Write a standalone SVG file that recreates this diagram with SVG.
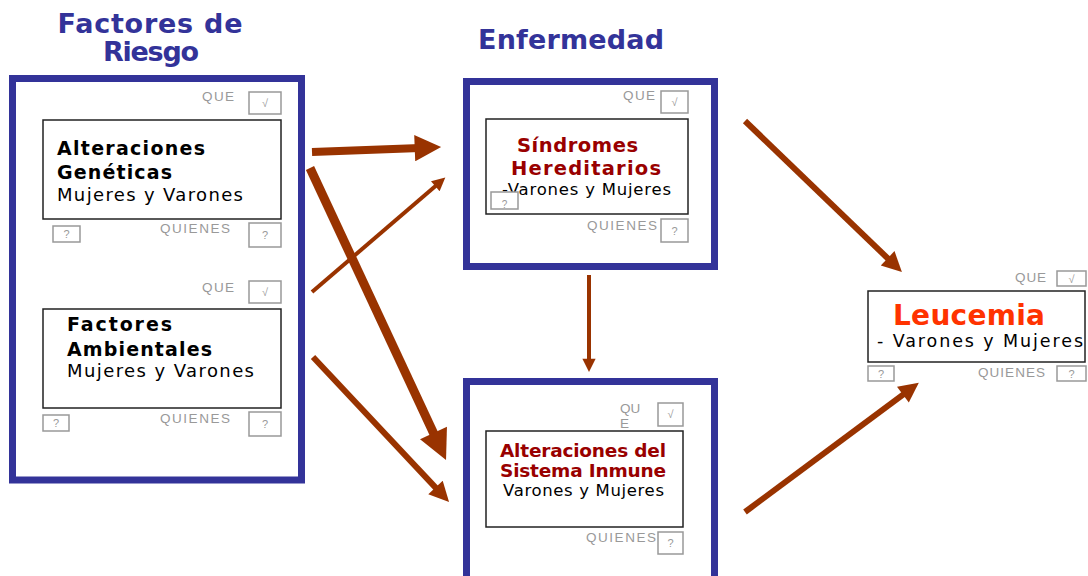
<svg xmlns="http://www.w3.org/2000/svg" width="1088" height="576" viewBox="0 0 1088 576">
<style>
.outer{fill:#fff;stroke:#333399;stroke-width:7}
.inner{fill:#fff;stroke:#222;stroke-width:1.5}
.cb{fill:#fff;stroke:#999;stroke-width:1.5}
.lbl{font-family:"Liberation Sans",Arial,sans-serif;font-size:13.5px;fill:#999}
.q{font-family:"Liberation Sans",Arial,sans-serif;font-size:11px;fill:#999;text-anchor:middle}
.title{font-family:"DejaVu Sans",sans-serif;font-weight:bold;font-size:27px;fill:#333399}
.hb{font-family:"DejaVu Sans",sans-serif;font-weight:bold;font-size:19px;fill:#000}
.hr{font-family:"DejaVu Sans",sans-serif;font-weight:bold;font-size:18.5px;fill:#990000}
.sub{font-family:"DejaVu Sans",sans-serif;font-size:18px;fill:#000}
.arr{stroke:#993300;fill:none;stroke-linecap:butt}
</style>
<defs>
<marker id="ah" viewBox="0 0 10 10" refX="2" refY="5" markerUnits="strokeWidth" markerWidth="3.6" markerHeight="3.3" orient="auto">
<path d="M0,0 L10,5 L0,10 z" fill="#993300"/>
</marker>
</defs>
<rect width="1088" height="576" fill="#fff"/>

<g id="titles">
<text class="title" x="150" y="33" text-anchor="middle" textLength="185">Factores de</text>
<text class="title" x="151" y="61" text-anchor="middle" textLength="96">Riesgo</text>
<text class="title" x="571" y="49" text-anchor="middle" textLength="186">Enfermedad</text>
</g>

<g id="factores-riesgo">
<rect class="outer" x="12.5" y="78.5" width="289" height="401.5"/>
</g>

<g id="alteraciones-geneticas">
<text class="lbl" x="202" y="101" textLength="32">QUE</text>
<rect class="cb" x="249" y="92" width="32" height="22"/>
<text class="q" x="265" y="107">√</text>
<rect class="inner" x="43" y="120" width="238" height="99"/>
<text class="hb" x="57" y="155" textLength="148">Alteraciones</text>
<text class="hb" x="57" y="179" textLength="115">Genéticas</text>
<text class="sub" x="57" y="201" textLength="186">Mujeres y Varones</text>
<rect class="cb" x="53" y="226" width="27" height="16"/>
<text class="q" x="66.5" y="238">?</text>
<text class="lbl" x="160" y="233" textLength="70">QUIENES</text>
<rect class="cb" x="249" y="223" width="32" height="24"/>
<text class="q" x="265" y="239">?</text>
</g>

<g id="factores-ambientales">
<text class="lbl" x="202" y="292" textLength="32">QUE</text>
<rect class="cb" x="249" y="281" width="32" height="22"/>
<text class="q" x="265" y="296">√</text>
<rect class="inner" x="43" y="309" width="238" height="99"/>
<text class="hb" x="67" y="331" textLength="105">Factores</text>
<text class="hb" x="67" y="356" textLength="145">Ambientales</text>
<text class="sub" x="67" y="377" textLength="187">Mujeres y Varones</text>
<rect class="cb" x="43" y="415" width="26" height="16"/>
<text class="q" x="56" y="427">?</text>
<text class="lbl" x="160" y="423" textLength="70">QUIENES</text>
<rect class="cb" x="249" y="412" width="32" height="24"/>
<text class="q" x="265" y="428">?</text>
</g>

<g id="sindromes-hereditarios">
<rect class="outer" x="466.5" y="81.5" width="248" height="185"/>
<text class="lbl" x="623" y="100" textLength="32">QUE</text>
<rect class="cb" x="661" y="91" width="27" height="22"/>
<text class="q" x="674.5" y="106">√</text>
<rect class="inner" x="486" y="119" width="202" height="95"/>
<text class="hr" x="517" y="152" textLength="121" style="font-size:19.5px">Síndromes</text>
<text class="hr" x="511" y="175" textLength="150" style="font-size:19.5px">Hereditarios</text>
<text class="sub" x="502" y="195" textLength="169" style="font-size:16.5px">-Varones y Mujeres</text>
<rect class="cb" x="491" y="192" width="27" height="17"/>
<text class="q" x="504.5" y="207.5" style="font-size:10px">?</text>
<text class="lbl" x="587" y="230" textLength="70">QUIENES</text>
<rect class="cb" x="661" y="219" width="27" height="23"/>
<text class="q" x="674.5" y="235">?</text>
</g>

<g id="sistema-inmune">
<rect class="outer" x="466.5" y="381.5" width="248" height="230"/>
<text class="lbl" x="620" y="413">QU</text>
<text class="lbl" x="620" y="428">E</text>
<rect class="cb" x="658" y="403" width="25" height="23"/>
<text class="q" x="670.5" y="418">√</text>
<rect class="inner" x="486" y="431" width="197" height="96"/>
<text class="hr" x="500" y="457" textLength="166">Alteraciones del</text>
<text class="hr" x="500" y="477" textLength="166">Sistema Inmune</text>
<text class="sub" x="503" y="496" textLength="161" style="font-size:16.5px">Varones y Mujeres</text>
<text class="lbl" x="586" y="542" textLength="70">QUIENES</text>
<rect class="cb" x="658" y="532" width="25" height="22"/>
<text class="q" x="670.5" y="547">?</text>
</g>

<g id="leucemia">
<text class="lbl" x="1015" y="282" textLength="31">QUE</text>
<rect class="cb" x="1057" y="271" width="29" height="15"/>
<text class="q" x="1071.5" y="283">√</text>
<rect class="inner" x="868" y="291" width="217" height="71"/>
<text x="893" y="325" textLength="152" style="font-family:'DejaVu Sans',sans-serif;font-weight:bold;font-size:28px;fill:#ff3300">Leucemia</text>
<text class="sub" x="877" y="347" textLength="206" style="font-size:17.5px">- Varones y Mujeres</text>
<rect class="cb" x="868" y="366" width="26" height="15"/>
<text class="q" x="881" y="378">?</text>
<text class="lbl" x="978" y="377" textLength="67">QUIENES</text>
<rect class="cb" x="1057" y="366" width="29" height="15"/>
<text class="q" x="1071.5" y="378">?</text>
</g>

<g id="connectors">
<line class="arr" x1="312" y1="152" x2="420" y2="147.9" stroke-width="8" marker-end="url(#ah)"/>
<line class="arr" x1="312" y1="292" x2="437.3" y2="184.5" stroke-width="4" marker-end="url(#ah)"/>
<line class="arr" x1="310" y1="168" x2="436" y2="438.4" stroke-width="9" marker-end="url(#ah)"/>
<line class="arr" x1="313" y1="357" x2="438.2" y2="490.4" stroke-width="6" marker-end="url(#ah)"/>
<line class="arr" x1="589" y1="275" x2="589" y2="361.5" stroke-width="4" marker-end="url(#ah)"/>
<line class="arr" x1="745" y1="121" x2="890.5" y2="261" stroke-width="6" marker-end="url(#ah)"/>
<line class="arr" x1="745" y1="512" x2="906.1" y2="392.3" stroke-width="6" marker-end="url(#ah)"/>
</g>
</svg>
